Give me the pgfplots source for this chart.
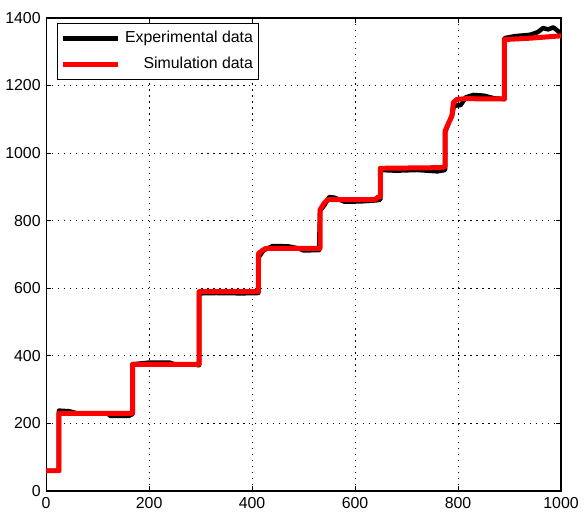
\documentclass[border=0pt]{standalone}
\usepackage{pgfplots}
\pgfplotsset{compat=1.18}
\usepackage{fontspec}
\setmainfont{Liberation Sans}
\begin{document}
\fontsize{16}{18}\selectfont
\begin{tikzpicture}[x=1bp,y=1bp]
\begin{axis}[
  at={(0,0)}, anchor=south west,
  scale only axis, width=517bp, height=475bp,
  xmin=0, xmax=1000, ymin=0, ymax=1400,
  xtick={0,200,...,1000}, ytick={0,200,...,1400},
  /pgf/number format/assume math mode=true,
  /pgf/number format/1000 sep={},
  tick label style={font=\fontsize{16}{18}\selectfont},
  tick align=inside, major tick length=5bp,
  tick style={black, line width=0.8bp},
  axis line style={black, line width=1.2bp},
  grid=major,
  major grid style={black, line width=1bp, dash pattern=on 1.2bp off 4.8bp},
  xticklabel style={yshift=-1bp},
  legend cell align=right,
  legend style={at={(0.021,0.989)}, anchor=north west, draw=black, line width=0.8bp,
    font=\fontsize{16}{18}\selectfont, inner xsep=3bp, inner ysep=6bp, row sep=8bp,
    /tikz/every odd column/.append style={column sep=3bp}},
  legend image code/.code={\draw[#1] (0bp,0bp) -- (55bp,0bp);},
]
\addplot[black, line width=4.5bp, line join=round] coordinates {
(0,60) (25,60) (25,238) (45,236) (60,230) (120,229) (125,222) (160,222) (168,228)
(168,375) (200,380) (240,380) (250,375) (290,374) (297,372)
(297,585) (330,586) (380,585) (412,586)
(412,690) (422,712) (440,725) (470,724) (490,718) (500,712) (530,713)
(532,830) (540,845) (550,870) (560,868) (580,856) (610,857) (640,860) (649,862)
(649,950) (680,948) (720,950) (760,946) (775,950)
(775,1062) (782,1090) (788,1110) (792,1140) (805,1142) (815,1165) (830,1172) (850,1170) (870,1162) (890,1160)
(890,1340) (910,1346) (940,1350) (955,1358) (965,1370) (975,1366) (985,1372) (995,1360) (1000,1352)
};
\addlegendentry{Experimental data}
\addplot[red, line width=5bp, line join=round] coordinates {
(0,60) (25,60) (25,230) (168,230)
(168,375) (297,375)
(297,590) (412,590)
(412,702) (420,712) (427,718) (532,718)
(532,832) (540,852) (547,862) (638,862) (645,870) (649,870)
(649,955) (768,957) (775,960)
(775,1066) (782,1090) (788,1110) (791,1150) (798,1159) (816,1161) (890,1160)
(890,1336) (940,1340) (1000,1347)
};
\addlegendentry{Simulation data}
\end{axis}
\path[use as bounding box] (-46,-22) rectangle (538,493);
\end{tikzpicture}
\end{document}
